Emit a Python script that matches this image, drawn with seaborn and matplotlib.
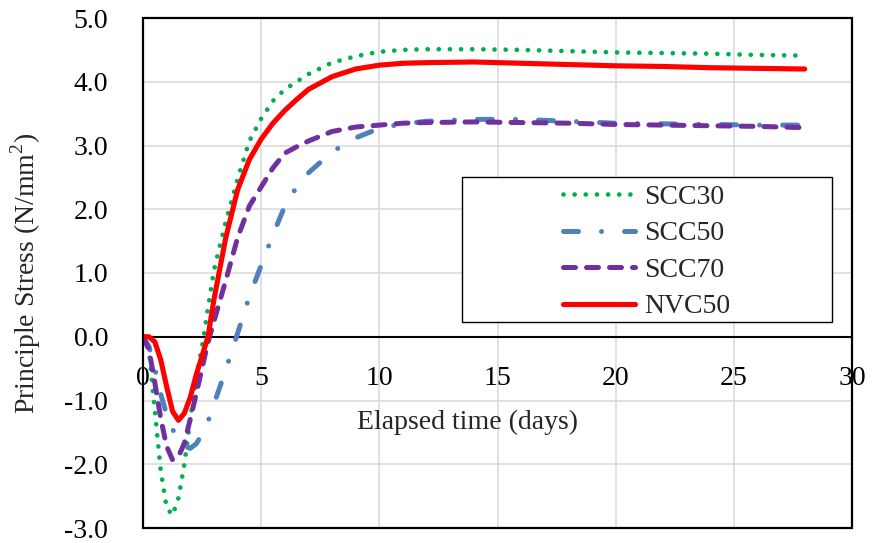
import matplotlib
matplotlib.use("Agg")
import matplotlib.pyplot as plt
import seaborn as sns
import pandas as pd
from matplotlib.patches import Rectangle

# ---- data ----
days = [0, 0.25, 0.5, 0.75, 1.0, 1.25, 1.5, 1.75, 2.0, 2.25, 2.5, 2.75, 3.0,
        3.5, 4.0, 4.5, 5.0, 5.5, 6.0, 6.5, 7.0, 8, 9, 10, 11, 12, 14, 16,
        18, 20, 22, 24, 26, 28]

scc30 = [0, -0.2, -1.15, -2.1, -2.68, -2.8, -2.53, -2.0, -1.29, -0.65, -0.15,
         0.45, 1.04, 1.8, 2.47, 3.07, 3.42, 3.7, 3.88, 4.0, 4.12, 4.3, 4.4,
         4.47, 4.5, 4.51, 4.51, 4.5, 4.48, 4.46, 4.45, 4.44, 4.42, 4.41]
scc50 = [0, -0.15, -0.5, -0.9, -1.22, -1.45, -1.62, -1.72, -1.75, -1.68, -1.53,
         -1.33, -1.06, -0.52, 0.05, 0.63, 1.12, 1.6, 2.05, 2.35, 2.57, 2.9,
         3.12, 3.27, 3.34, 3.38, 3.41, 3.41, 3.38, 3.35, 3.34, 3.33, 3.32, 3.32]
scc70 = [0, -0.2, -0.72, -1.28, -1.72, -1.93, -1.88, -1.67, -1.29, -0.9, -0.49,
         -0.09, 0.24, 0.88, 1.55, 2.05, 2.35, 2.65, 2.88, 2.98, 3.07, 3.22,
         3.29, 3.32, 3.35, 3.36, 3.37, 3.36, 3.35, 3.33, 3.32, 3.31, 3.3, 3.28]
nvc50 = [0, 0, -0.08, -0.36, -0.78, -1.17, -1.31, -1.2, -0.95, -0.6, -0.3,
         0.0, 0.58, 1.55, 2.3, 2.78, 3.1, 3.35, 3.55, 3.72, 3.88, 4.08, 4.2,
         4.26, 4.29, 4.3, 4.31, 4.29, 4.27, 4.25, 4.24, 4.22, 4.21, 4.2]

series_names = ["SCC30", "SCC50", "SCC70", "NVC50"]
series_values = [scc30, scc50, scc70, nvc50]

x_ticks = [0, 5, 10, 15, 20, 25, 30]
y_ticks = [-3, -2, -1, 0, 1, 2, 3, 4, 5]

# ---- styles ----
colors = {"SCC30": "#00B050", "SCC50": "#4F81BD", "SCC70": "#7030A0", "NVC50": "#FF0000"}
widths = {"SCC30": 3.4, "SCC50": 3.6, "SCC70": 3.6, "NVC50": 3.7}
styles = {"SCC30": (0, (0.01, 2.35)),
          "SCC50": (0, (3.0, 4.6, 0.01, 4.6)),
          "SCC70": (0, (2.4, 2.2)),
          "NVC50": "-"}

sns.set_style("white")
plt.rcParams["font.family"] = ["Liberation Serif", "DejaVu Serif"]
plt.rcParams["axes.unicode_minus"] = False
plt.rcParams["mathtext.fontset"] = "custom"
plt.rcParams["mathtext.rm"] = "Liberation Serif"

fig = plt.figure(figsize=(8.76, 5.43), dpi=100)
ax = fig.add_axes([143 / 876, 1 - 528 / 543, (852 - 143) / 876, (528 - 18) / 543])

for name, vals in zip(series_names, series_values):
    df = pd.DataFrame({"days": days, "stress": vals})
    sns.lineplot(data=df, x="days", y="stress", ax=ax, color=colors[name],
                 lw=widths[name], linestyle=styles[name], label=name,
                 dash_capstyle="round", solid_capstyle="round",
                 dash_joinstyle="round", solid_joinstyle="round", sort=False,
                 estimator=None, zorder=3)

ax.set_xlim(0, 30)
ax.set_ylim(-3, 5)
ax.set_xticks(x_ticks)
ax.set_xticklabels([str(v) for v in x_ticks])
ax.set_yticks(y_ticks)
ax.set_yticklabels([f"{v:.1f}" for v in y_ticks])
ax.tick_params(axis="both", length=0, labelsize=20, colors="black")
ax.tick_params(axis="y", pad=25)
ax.tick_params(axis="x", pad=21)

ax.grid(True, color="#D9D9D9", lw=1.1, zorder=0)
ax.set_axisbelow(True)

for s in ["left", "right", "top"]:
    ax.spines[s].set_visible(False)
ax.spines["bottom"].set_position(("data", 0))
ax.spines["bottom"].set_color("black")
ax.spines["bottom"].set_linewidth(1.5)
ax.spines["bottom"].set_zorder(2)
ax.add_patch(Rectangle((0, 0), 1, 1, transform=ax.transAxes, fill=False,
                       edgecolor="black", lw=1.6, zorder=5, clip_on=False))

ax.set_xlabel("Elapsed time (days)", fontsize=20)
ax.xaxis.set_label_coords(0.457, 0.232)
ax.set_ylabel("Principle Stress (N/mm$^2$)", fontsize=20)
ax.yaxis.set_label_coords(-0.141, 0.5)

# legend frame drawn as an axes rectangle, entries without frame
ax.add_patch(Rectangle((0.45, 0.404), 0.522, 0.284, transform=ax.transAxes,
                       facecolor="white", edgecolor="black", lw=1.0, zorder=6))
leg = ax.legend(loc="upper left", bbox_to_anchor=(0.592, 0.674), frameon=False,
                fontsize=20, handlelength=2.6, handletextpad=0.34,
                labelspacing=0.4, borderpad=0, borderaxespad=0)
leg.set_zorder(7)

fig.savefig("out.png", dpi=100)
